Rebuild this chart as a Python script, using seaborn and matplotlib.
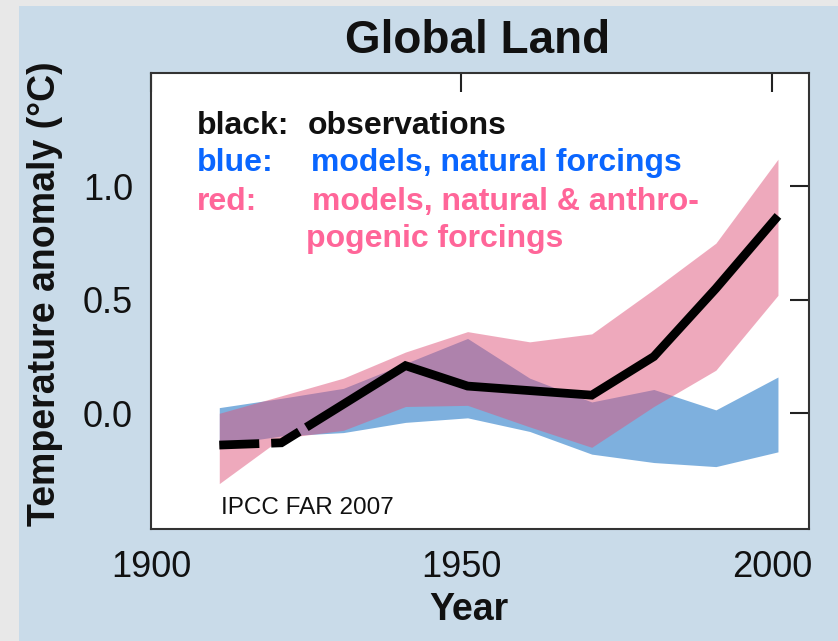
import matplotlib
matplotlib.use("Agg")
import matplotlib.pyplot as plt
from matplotlib.patches import Rectangle
import seaborn as sns
import pandas as pd

# Decadal means, 1911-2001
years = [1911, 1921, 1931, 1941, 1951, 1961, 1971, 1981, 1991, 2001]
observed = [-0.14, -0.13, 0.04, 0.21, 0.12, 0.10, 0.08, 0.25, 0.55, 0.87]
natural_lo = [-0.14, -0.10, -0.085, -0.04, -0.02, -0.08, -0.18, -0.217, -0.235, -0.17]
natural_hi = [0.025, 0.066, 0.11, 0.22, 0.33, 0.155, 0.05, 0.105, 0.015, 0.16]
combined_lo = [-0.31, -0.11, -0.075, 0.03, 0.035, -0.06, -0.15, 0.03, 0.19, 0.52]
combined_hi = [0.0, 0.077, 0.155, 0.27, 0.36, 0.315, 0.35, 0.546, 0.75, 1.12]

xticks = [1900, 1950, 2000]
yticks = [0.0, 0.5, 1.0]
ytick_labels = ["0.0", "0.5", "1.0"]

sns.set_theme(style="white")
plt.rcParams["font.family"] = ["Liberation Sans", "DejaVu Sans"]
plt.rcParams["lines.scale_dashes"] = False

PANEL = "#c9dbe9"
OUTER = "#e8e8e8"
BLUE_FILL = "#7eb0de"
PINK_FILL = "#df557b"

fig = plt.figure(figsize=(8.38, 6.41), dpi=100)
fig.patch.set_facecolor(OUTER)
fig.patches.append(Rectangle((19 / 838, 0), 1, 1 - 6 / 641, transform=fig.transFigure,
                             facecolor=PANEL, edgecolor="none", zorder=-10))

ax = fig.add_axes([151 / 838, 1 - 529 / 641, 658 / 838, 456 / 641])
ax.set_facecolor("white")

ax.fill_between(years, natural_lo, natural_hi, color=BLUE_FILL, lw=0, zorder=1)
ax.fill_between(years, combined_lo, combined_hi, color=PINK_FILL, alpha=0.5, lw=0, zorder=2)

df = pd.DataFrame({"year": years, "anomaly": observed})
sns.lineplot(data=df, x="year", y="anomaly", color="black", lw=6.3, ax=ax, zorder=3)
obs_line = ax.lines[-1]
# early, sparsely sampled decades drawn broken
obs_line.set_linestyle((0, (28.8, 8.6, 22.5, 6.0, 3000, 1)))
obs_line.set_dash_capstyle("butt")
obs_line.set_dash_joinstyle("miter")

ax.set_xlim(1900, 2006)
ax.set_ylim(-0.51, 1.5)
ax.set_xticks(xticks)
ax.set_yticks(yticks, ytick_labels)
ax.tick_params(axis="both", direction="in", length=13.5, width=1.5, color="#222",
               top=True, right=True, labelsize=26, labelcolor="#111")
ax.tick_params(axis="y", pad=13)
ax.tick_params(axis="x", pad=15)
for sp in ax.spines.values():
    sp.set_color("#333")
    sp.set_linewidth(1.5)

ax.set_xlabel("Year", fontsize=27, fontweight="bold", color="#111")
ax.set_ylabel("Temperature anomaly (°C)", fontsize=27, fontweight="bold", color="#111")
ax.xaxis.set_label_coords((469 - 151) / 658, (529 - 592) / 456)
ax.yaxis.set_label_coords((63 - 151) / 658, (529 - 294) / 456)

fig.text(478 / 838, 1 - 53 / 641, "Global Land", fontsize=33, fontweight="bold",
         color="#111", ha="center", va="baseline")

legend_rows = [
    (0.0699, 0.866, "black:", "#111"),
    (0.2386, 0.866, "observations", "#111"),
    (0.0699, 0.784, "blue:", "#0a66ff"),
    (0.2427, 0.784, "models, natural forcings", "#0a66ff"),
    (0.0699, 0.6996, "red:", "#ff6699"),
    (0.2451, 0.6996, "models, natural & anthro-", "#ff6699"),
    (0.2356, 0.619, "pogenic forcings", "#ff6699"),
]
for x, y, s, c in legend_rows:
    ax.text(x, y, s, transform=ax.transAxes, fontsize=23, fontweight="bold",
            color=c, ha="left", va="baseline", zorder=5)

ax.text((221 - 151) / 658, 0.032, "IPCC FAR 2007", transform=ax.transAxes,
        fontsize=17.5, color="#111", ha="left", va="baseline", zorder=5)

fig.savefig("out.png", dpi=100, facecolor=fig.get_facecolor())
